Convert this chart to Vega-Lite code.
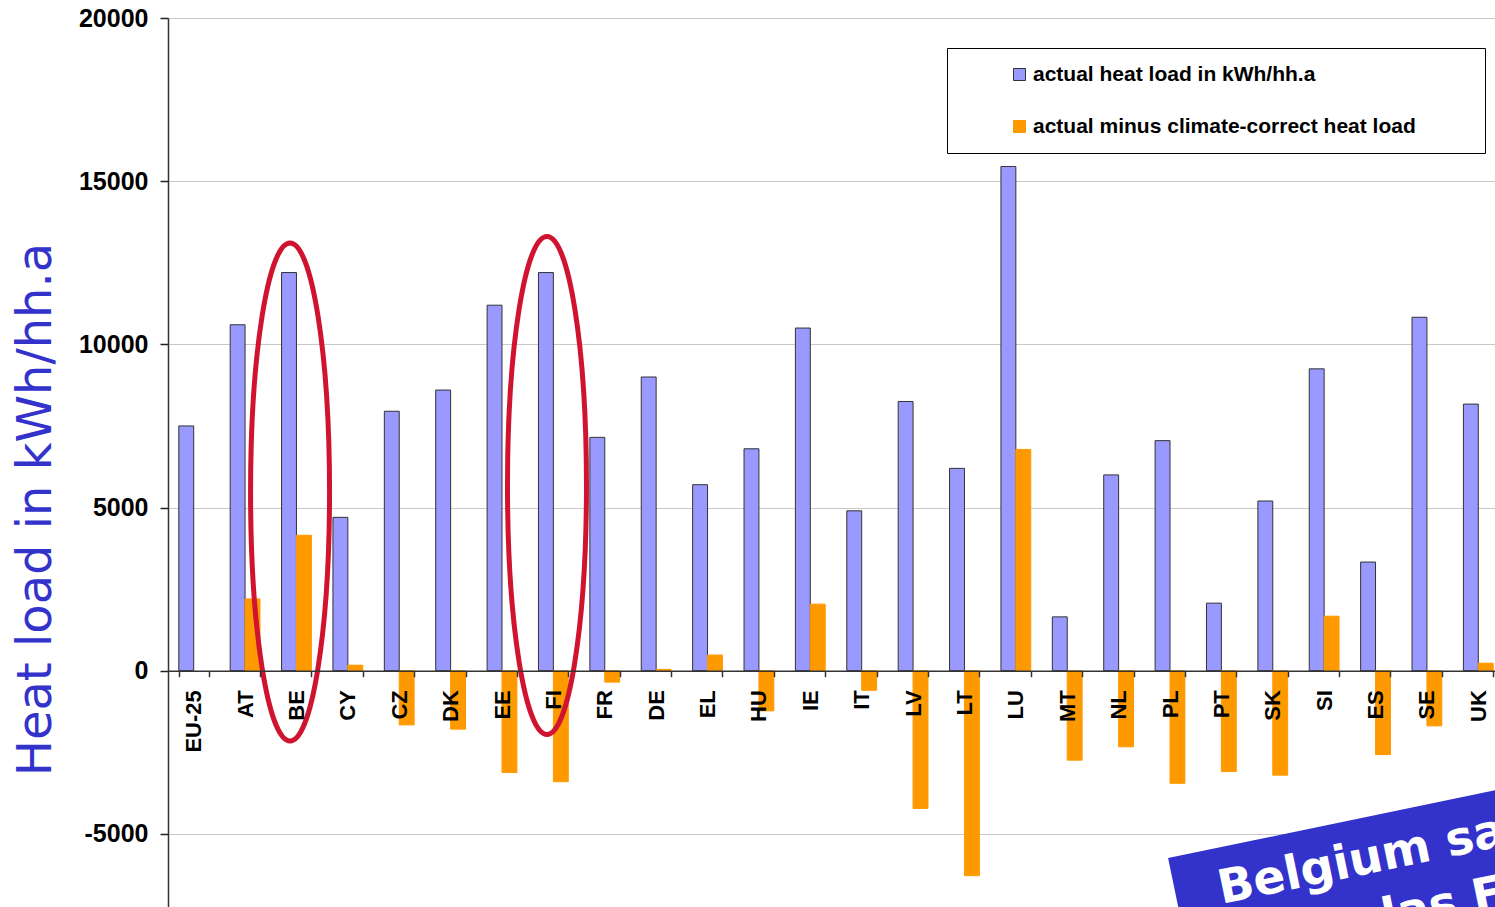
{
  "$schema": "https://vega.github.io/schema/vega-lite/v6.json",
  "autosize": {"type": "none"},
  "padding": {"left": 168, "top": 18, "right": 0, "bottom": 0},
  "width": 1327,
  "height": 889,
  "config": {"view": {"stroke": null}, "font": "Liberation Sans"},
  "layer": [
    {
      "data": {"values": [
        {"country": "EU-25", "series": "actual heat load in kWh/hh.a", "value": 7500},
        {"country": "AT", "series": "actual heat load in kWh/hh.a", "value": 10600},
        {"country": "AT", "series": "actual minus climate-correct heat load", "value": 2200},
        {"country": "BE", "series": "actual heat load in kWh/hh.a", "value": 12200},
        {"country": "BE", "series": "actual minus climate-correct heat load", "value": 4150},
        {"country": "CY", "series": "actual heat load in kWh/hh.a", "value": 4700},
        {"country": "CY", "series": "actual minus climate-correct heat load", "value": 170},
        {"country": "CZ", "series": "actual heat load in kWh/hh.a", "value": 7950},
        {"country": "CZ", "series": "actual minus climate-correct heat load", "value": -1660},
        {"country": "DK", "series": "actual heat load in kWh/hh.a", "value": 8600},
        {"country": "DK", "series": "actual minus climate-correct heat load", "value": -1790},
        {"country": "EE", "series": "actual heat load in kWh/hh.a", "value": 11200},
        {"country": "EE", "series": "actual minus climate-correct heat load", "value": -3120},
        {"country": "FI", "series": "actual heat load in kWh/hh.a", "value": 12200},
        {"country": "FI", "series": "actual minus climate-correct heat load", "value": -3400},
        {"country": "FR", "series": "actual heat load in kWh/hh.a", "value": 7150},
        {"country": "FR", "series": "actual minus climate-correct heat load", "value": -350},
        {"country": "DE", "series": "actual heat load in kWh/hh.a", "value": 9000},
        {"country": "DE", "series": "actual minus climate-correct heat load", "value": 40},
        {"country": "EL", "series": "actual heat load in kWh/hh.a", "value": 5700},
        {"country": "EL", "series": "actual minus climate-correct heat load", "value": 480},
        {"country": "HU", "series": "actual heat load in kWh/hh.a", "value": 6800},
        {"country": "HU", "series": "actual minus climate-correct heat load", "value": -1230},
        {"country": "IE", "series": "actual heat load in kWh/hh.a", "value": 10500},
        {"country": "IE", "series": "actual minus climate-correct heat load", "value": 2040},
        {"country": "IT", "series": "actual heat load in kWh/hh.a", "value": 4900},
        {"country": "IT", "series": "actual minus climate-correct heat load", "value": -600},
        {"country": "LV", "series": "actual heat load in kWh/hh.a", "value": 8250},
        {"country": "LV", "series": "actual minus climate-correct heat load", "value": -4220},
        {"country": "LT", "series": "actual heat load in kWh/hh.a", "value": 6200},
        {"country": "LT", "series": "actual minus climate-correct heat load", "value": -6280},
        {"country": "LU", "series": "actual heat load in kWh/hh.a", "value": 15450},
        {"country": "LU", "series": "actual minus climate-correct heat load", "value": 6780},
        {"country": "MT", "series": "actual heat load in kWh/hh.a", "value": 1650},
        {"country": "MT", "series": "actual minus climate-correct heat load", "value": -2740},
        {"country": "NL", "series": "actual heat load in kWh/hh.a", "value": 6000},
        {"country": "NL", "series": "actual minus climate-correct heat load", "value": -2330},
        {"country": "PL", "series": "actual heat load in kWh/hh.a", "value": 7050},
        {"country": "PL", "series": "actual minus climate-correct heat load", "value": -3450},
        {"country": "PT", "series": "actual heat load in kWh/hh.a", "value": 2070},
        {"country": "PT", "series": "actual minus climate-correct heat load", "value": -3090},
        {"country": "SK", "series": "actual heat load in kWh/hh.a", "value": 5200},
        {"country": "SK", "series": "actual minus climate-correct heat load", "value": -3200},
        {"country": "SI", "series": "actual heat load in kWh/hh.a", "value": 9250},
        {"country": "SI", "series": "actual minus climate-correct heat load", "value": 1670},
        {"country": "ES", "series": "actual heat load in kWh/hh.a", "value": 3330},
        {"country": "ES", "series": "actual minus climate-correct heat load", "value": -2570},
        {"country": "SE", "series": "actual heat load in kWh/hh.a", "value": 10830},
        {"country": "SE", "series": "actual minus climate-correct heat load", "value": -1690},
        {"country": "UK", "series": "actual heat load in kWh/hh.a", "value": 8170},
        {"country": "UK", "series": "actual minus climate-correct heat load", "value": 230}
      ]},
      "mark": {"type": "bar", "strokeWidth": 1},
      "encoding": {
        "x": {
          "field": "country", "type": "nominal",
          "scale": {
            "domain": ["EU-25","AT","BE","CY","CZ","DK","EE","FI","FR","DE","EL","HU","IE","IT","LV","LT","LU","MT","NL","PL","PT","SK","SI","ES","SE","UK"],
            "range": [0, 1336], "paddingInner": 0.42, "paddingOuter": 0.21
          },
          "axis": {
            "title": null, "orient": "bottom", "offset": -236.3,
            "labelAngle": -90, "labelFont": "Liberation Sans", "labelFontWeight": "bold",
            "labelFontSize": 22, "labelColor": "black", "labelPadding": 13, "labelOverlap": false,
            "tickBand": "extent", "tickSize": 6, "tickColor": "#333333", "tickWidth": 1.5,
            "domainColor": "#333333", "domainWidth": 1.5, "zindex": 1
          }
        },
        "xOffset": {
          "field": "series", "type": "nominal",
          "scale": {"domain": ["actual heat load in kWh/hh.a", "actual minus climate-correct heat load"], "paddingInner": 0, "paddingOuter": 0}
        },
        "y": {
          "field": "value", "type": "quantitative",
          "scale": {"domain": [-7240, 20000], "nice": false},
          "axis": {
            "title": "Heat load in kWh/hh.a",
            "values": [-5000, 0, 5000, 10000, 15000, 20000],
            "labelExpr": "'' + datum.value",
            "labelFont": "Liberation Sans", "labelFontWeight": "bold", "labelFontSize": 25,
            "labelColor": "black", "labelPadding": 12,
            "tickSize": 8, "tickColor": "#222222", "tickWidth": 1.5,
            "domainColor": "#333333", "domainWidth": 1.5,
            "gridColor": "#C8C8C8", "gridWidth": 1.2,
            "titleFont": "DejaVu Sans", "titleFontSize": 48, "titleFontWeight": "normal",
            "titleColor": "#3333CC", "titleX": -118, "titleY": 491, "titleAngle": -90,
            "titleAlign": "center", "titleBaseline": "alphabetic"
          }
        },
        "fill": {
          "field": "series", "type": "nominal",
          "scale": {"domain": ["actual heat load in kWh/hh.a", "actual minus climate-correct heat load"], "range": ["#9999FF", "#FF9900"]},
          "legend": {
            "orient": "none", "legendX": 779, "legendY": 30,
            "title": ".", "titleOrient": "right", "titleColor": "white", "titlePadding": 47,
            "titleFontSize": 21, "titleFont": "Liberation Sans",
            "symbolType": "square", "symbolSize": 144, "symbolStrokeWidth": 1,
            "labelFont": "Liberation Sans", "labelFontSize": 21, "labelFontWeight": "bold", "labelColor": "black",
            "padding": 16, "rowPadding": 30, "symbolOffset": 46, "labelOffset": 3,
            "strokeColor": "black", "fillColor": "white", "labelLimit": 0
          }
        },
        "stroke": {
          "field": "series", "type": "nominal",
          "scale": {"domain": ["actual heat load in kWh/hh.a", "actual minus climate-correct heat load"], "range": ["#333333", "#FF9900"]},
          "legend": {
            "orient": "none", "legendX": 779, "legendY": 30,
            "title": ".", "titleOrient": "right", "titleColor": "white", "titlePadding": 47,
            "titleFontSize": 21, "titleFont": "Liberation Sans",
            "symbolType": "square", "symbolSize": 144, "symbolStrokeWidth": 1,
            "labelFont": "Liberation Sans", "labelFontSize": 21, "labelFontWeight": "bold", "labelColor": "black",
            "padding": 16, "rowPadding": 30, "symbolOffset": 46, "labelOffset": 3,
            "strokeColor": "black", "fillColor": "white", "labelLimit": 0
          }
        }
      }
    },
    {
      "data": {"values": [
        {"country": "BE", "value": 5475},
        {"country": "FI", "value": 5676}
      ]},
      "mark": {
        "type": "point", "filled": false, "opacity": 1, "strokeWidth": 5, "color": "#D01430",
        "size": 248004,
        "shape": "M 0 -1 C 0.0876 -1 0.1586 -0.5523 0.1586 0 C 0.1586 0.5523 0.0876 1 0 1 C -0.0876 1 -0.1586 0.5523 -0.1586 0 C -0.1586 -0.5523 -0.0876 -1 0 -1 Z"
      },
      "encoding": {
        "x": {"field": "country", "type": "nominal"},
        "xOffset": {"value": 8.5},
        "y": {"field": "value", "type": "quantitative"}
      }
    },
    {
      "data": {"values": [
        {"country": "PT", "value": -7148}
      ]},
      "mark": {
        "type": "point", "filled": true, "opacity": 1, "strokeWidth": 0, "color": "#3333CC",
        "size": 40000,
        "shape": "M -0.533 -0.46 L 7.301 -2.082 L 7.707 -0.124 L -0.127 1.498 Z"
      },
      "encoding": {
        "x": {"field": "country", "type": "nominal"},
        "y": {"field": "value", "type": "quantitative"}
      }
    },
    {
      "data": {"values": [
        {"country": "PT", "value": -7148, "label": "Belgium sa"}
      ]},
      "mark": {
        "type": "text", "align": "left", "baseline": "alphabetic", "angle": -11.7,
        "font": "DejaVu Sans", "fontWeight": "bold", "fontSize": 47, "color": "white"
      },
      "encoding": {
        "x": {"field": "country", "type": "nominal"},
        "y": {"field": "value", "type": "quantitative"},
        "text": {"field": "label"}
      }
    },
    {
      "data": {"values": [
        {"country": "ES", "value": -8072, "label": "las F"}
      ]},
      "mark": {
        "type": "text", "align": "left", "baseline": "alphabetic", "angle": -11.7, "dx": 10,
        "font": "DejaVu Sans", "fontWeight": "bold", "fontSize": 47, "color": "white"
      },
      "encoding": {
        "x": {"field": "country", "type": "nominal"},
        "y": {"field": "value", "type": "quantitative"},
        "text": {"field": "label"}
      }
    }
  ]
}
